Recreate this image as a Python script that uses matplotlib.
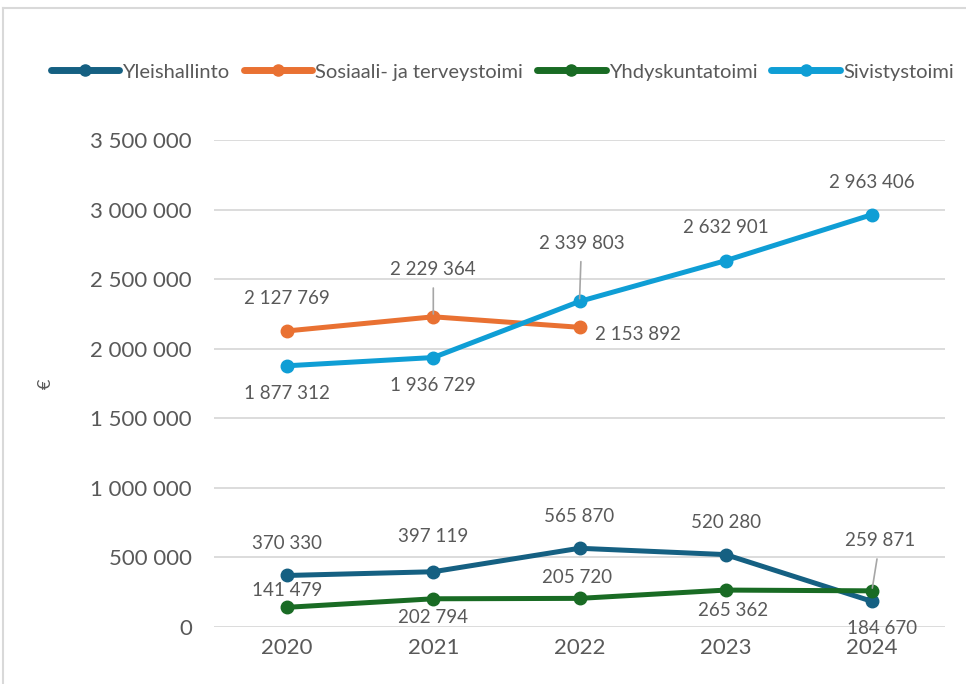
import matplotlib.pyplot as plt
from matplotlib.lines import Line2D
from matplotlib.ticker import FuncFormatter

years = ['2020', '2021', '2022', '2023', '2024']
yleis = [370330, 397119, 565870, 520280, 184670]
sosiaali = [2127769, 2229364, 2153892]
yhdysk = [141479, 202794, 205720, 265362, 259871]
sivistys = [1877312, 1936729, 2339803, 2632901, 2963406]

names = ['Yleishallinto', 'Sosiaali- ja terveystoimi', 'Yhdyskuntatoimi', 'Sivistystoimi']
colors = ['#156082', '#E97132', '#196B24', '#0F9ED5']

plt.rcParams['font.family'] = ['Lato', 'DejaVu Sans']

def fmt(v):
    return f'{int(v):,}'.replace(',', ' ')

fig = plt.figure(figsize=(9.66, 6.84), dpi=100)
ax = fig.add_axes([214 / 966, 1 - 627 / 684, (945 - 214) / 966, (627 - 140) / 684])

x = list(range(len(years)))
series = [yleis, sosiaali, yhdysk, sivistys]
for vals, name, c in zip(series, names, colors):
    ax.plot(x[:len(vals)], vals, color=c, lw=3.6, marker='o', ms=9,
            solid_capstyle='round', label=name, zorder=3)

ax.set_xlim(-0.5, 4.5)
ax.set_ylim(0, 3500000)
ax.set_yticks(range(0, 3500001, 500000))
ax.yaxis.set_major_formatter(FuncFormatter(lambda v, p: fmt(v)))
ax.set_xticks(x)
ax.set_xticklabels(years)
ax.grid(axis='y', color='#D9D9D9', lw=1.3)
ax.set_axisbelow(True)
for s in ax.spines.values():
    s.set_visible(False)
ax.tick_params(length=0, labelsize=16, labelcolor='#595959', pad=8)
ax.tick_params(axis='y', pad=16)
ax.set_ylabel('€', fontsize=13, color='#595959', labelpad=26)

# data labels: (series, index, dx px, dy px, leader line)
lab_style = dict(fontsize=13.5, color='#595959', ha='center', va='center')
placements = [
    (sosiaali, 0, 0, 32, False), (sosiaali, 1, 0, 47, True), (sosiaali, 2, 58, -7, False),
    (sivistys, 0, 0, -28, False), (sivistys, 1, 0, -28, False), (sivistys, 2, 2, 58, True),
    (sivistys, 3, 0, 33, False), (sivistys, 4, 0, 32, False),
    (yleis, 0, 0, 32, False), (yleis, 1, 0, 35, False), (yleis, 2, 0, 32, False),
    (yleis, 3, 0, 32, False), (yleis, 4, 10, -27, False),
    (yhdysk, 0, 0, 17, False), (yhdysk, 1, 0, -19, False), (yhdysk, 2, -2, 21, False),
    (yhdysk, 3, 7, -20, False), (yhdysk, 4, 8, 50, True),
]
for vals, i, dx, dy, leader in placements:
    kw = {}
    if leader:
        kw['arrowprops'] = dict(arrowstyle='-', color='#A6A6A6', lw=1.2, shrinkA=5, shrinkB=2)
    ax.annotate(fmt(vals[i]), (i, vals[i]), xytext=(dx, dy), textcoords='offset pixels',
                zorder=4, **lab_style, **kw)

leg = fig.legend(loc='center', bbox_to_anchor=(0.52, 1 - 72 / 684), ncol=4, frameon=False,
                 handlelength=3.4, handletextpad=0.15, columnspacing=0.7,
                 prop={'size': 14.5})
for t in leg.get_texts():
    t.set_color('#595959')
for h in leg.legend_handles:
    h.set_linewidth(5)
    h.set_markersize(8)

# chart frame (top and left edge visible in the crop)
fig.add_artist(Line2D([3 / 966, 1], [1 - 8 / 684, 1 - 8 / 684], color='#D9D9D9', lw=1.5))
fig.add_artist(Line2D([3 / 966, 3 / 966], [1 - 8 / 684, 0], color='#D9D9D9', lw=1.5))

fig.savefig('out.png', dpi=100)
